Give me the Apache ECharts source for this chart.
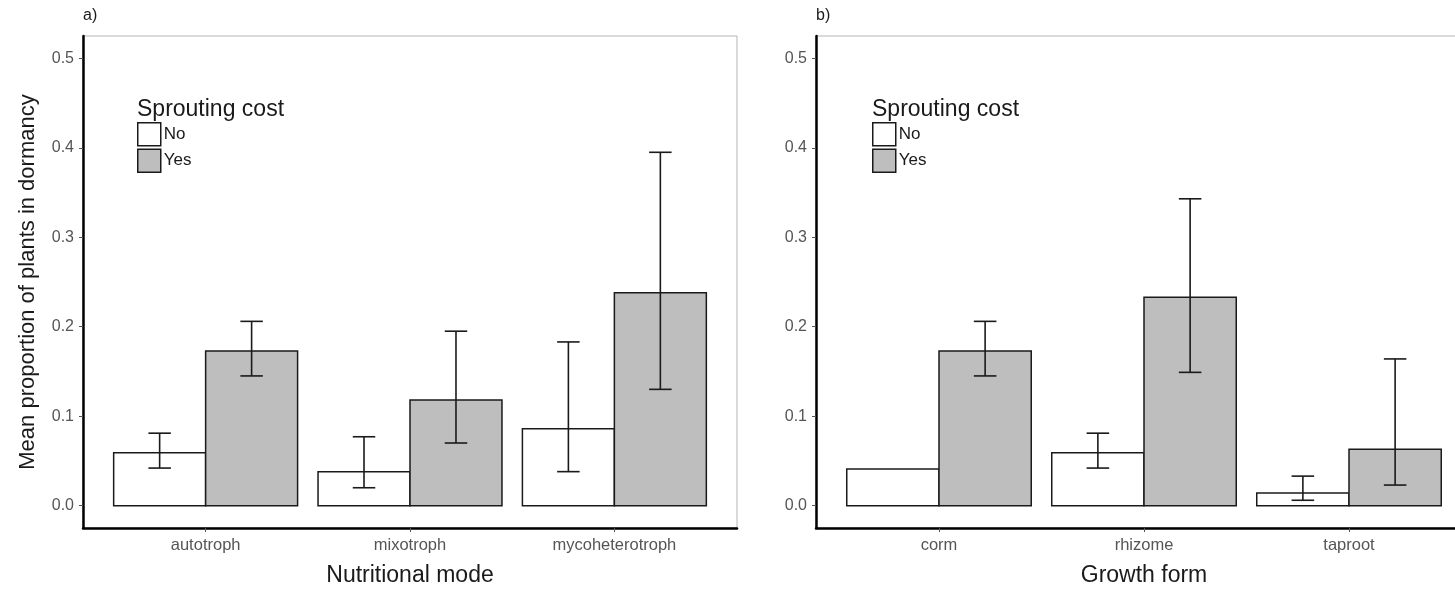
<!DOCTYPE html>
<html>
<head>
<meta charset="utf-8">
<title>Dormancy by nutritional mode and growth form</title>
<script src="https://cdn.jsdelivr.net/npm/echarts@6/dist/echarts.min.js"></script>
<style>
  html, body { margin: 0; padding: 0; background: #fff; }
  #chart { width: 1455px; height: 591px; }
</style>
</head>
<body>
<div id="chart"></div>
<script>
// Panel a: nutritional mode
const categoriesA = ['autotroph', 'mixotroph', 'mycoheterotroph'];
const noMeanA  = [0.059, 0.038, 0.086];
const noLowA   = [0.042, 0.020, 0.038];
const noHighA  = [0.081, 0.077, 0.183];
const yesMeanA = [0.173, 0.118, 0.238];
const yesLowA  = [0.145, 0.070, 0.130];
const yesHighA = [0.206, 0.195, 0.395];

// Panel b: growth form (corm without sprouting cost has no interval)
const categoriesB = ['corm', 'rhizome', 'taproot'];
const noMeanB  = [0.041, 0.059, 0.014];
const noLowB   = [null, 0.042, 0.006];
const noHighB  = [null, 0.081, 0.033];
const yesMeanB = [0.173, 0.233, 0.063];
const yesLowB  = [0.145, 0.149, 0.023];
const yesHighB = [0.206, 0.343, 0.164];

const yTicks = [0, 0.1, 0.2, 0.3, 0.4, 0.5];
const groupNames = ['No', 'Yes'];

const FONT = 'Liberation Sans, Arial, sans-serif';
const BAR_HALF = 0.45;     // each group bar spans 0.45 category units
const WHISKER = 0.055;     // half width of error-bar caps
const fills = { No: '#ffffff', Yes: '#bebebe' };

function barSeries(name, means, offsetSign, axisIdx) {
  return {
    type: 'custom',
    name: name,
    xAxisIndex: axisIdx,
    yAxisIndex: axisIdx,
    itemStyle: { color: fills[name], borderColor: '#1a1a1a', borderWidth: 1.5 },
    data: means.map((m, i) => [i + 1, m]),
    renderItem: function (params, api) {
      const x = api.value(0);
      const v = api.value(1);
      const x0 = offsetSign < 0 ? x - BAR_HALF : x;
      const x1 = offsetSign < 0 ? x : x + BAR_HALF;
      const p0 = api.coord([x0, v]);
      const p1 = api.coord([x1, 0]);
      return {
        type: 'rect',
        shape: { x: p0[0], y: p0[1], width: p1[0] - p0[0], height: p1[1] - p0[1] },
        style: { fill: fills[name], stroke: '#1a1a1a', lineWidth: 1.5 }
      };
    }
  };
}

function errorSeries(name, lows, highs, offsetSign, axisIdx) {
  const data = [];
  lows.forEach((lo, i) => {
    if (lo !== null && highs[i] !== null) data.push([i + 1, lo, highs[i]]);
  });
  return {
    type: 'custom',
    name: name + ' interval',
    xAxisIndex: axisIdx,
    yAxisIndex: axisIdx,
    z: 5,
    data: data,
    renderItem: function (params, api) {
      const xc = api.value(0) + offsetSign * BAR_HALF / 2;
      const lo = api.value(1);
      const hi = api.value(2);
      const top = api.coord([xc, hi]);
      const bot = api.coord([xc, lo]);
      const capL = api.coord([xc - WHISKER, hi]);
      const capR = api.coord([xc + WHISKER, hi]);
      const baseL = api.coord([xc - WHISKER, lo]);
      const baseR = api.coord([xc + WHISKER, lo]);
      const st = { stroke: '#1a1a1a', lineWidth: 1.6 };
      return {
        type: 'group',
        children: [
          { type: 'line', shape: { x1: top[0], y1: top[1], x2: bot[0], y2: bot[1] }, style: st },
          { type: 'line', shape: { x1: capL[0], y1: capL[1], x2: capR[0], y2: capR[1] }, style: st },
          { type: 'line', shape: { x1: baseL[0], y1: baseL[1], x2: baseR[0], y2: baseR[1] }, style: st }
        ]
      };
    }
  };
}

function xAxis(idx, cats, title) {
  return {
    type: 'value',
    gridIndex: idx,
    min: 0.4,
    max: 3.6,
    name: title,
    nameLocation: 'middle',
    nameGap: 36,
    nameTextStyle: { fontFamily: FONT, fontSize: 23, color: '#1a1a1a' },
    splitLine: { show: false },
    axisLine: { show: true, onZero: false, lineStyle: { color: '#000', width: 2.5 } },
    axisTick: { show: true, length: 4, customValues: [1, 2, 3], lineStyle: { color: '#555', width: 1 } },
    axisLabel: {
      show: true,
      customValues: [1, 2, 3],
      margin: 9,
      fontFamily: FONT, fontSize: 16.5, color: '#555',
      formatter: v => cats[Math.round(v) - 1]
    }
  };
}

function yAxis(idx, withTitle) {
  return {
    type: 'value',
    gridIndex: idx,
    min: -0.025,
    max: 0.525,
    name: withTitle ? 'Mean proportion of plants in dormancy' : '',
    nameLocation: 'middle',
    nameGap: 44,
    nameTextStyle: { fontFamily: FONT, fontSize: 22, color: '#1a1a1a' },
    splitLine: { show: false },
    axisLine: { show: true, onZero: false, lineStyle: { color: '#000', width: 2.5 } },
    axisTick: { show: true, length: 4, customValues: yTicks, lineStyle: { color: '#555', width: 1 } },
    axisLabel: {
      show: true,
      customValues: yTicks,
      margin: 9,
      fontFamily: FONT, fontSize: 16, color: '#555',
      formatter: v => v.toFixed(1)
    }
  };
}

function legend(left) {
  return {
    left: left,
    top: 117,
    orient: 'vertical',
    selectedMode: false,
    itemWidth: 23,
    itemHeight: 23,
    itemGap: 2,
    icon: 'rect',
    textStyle: { fontFamily: FONT, fontSize: 17, color: '#1a1a1a', padding: [0, 0, 0, -2] },
    data: groupNames.map(n => ({
      name: n,
      itemStyle: { color: fills[n], borderColor: '#1a1a1a', borderWidth: 1.5 }
    }))
  };
}

const chart = echarts.init(document.getElementById('chart'), null, { renderer: 'canvas' });

chart.setOption({
  animation: false,
  backgroundColor: '#ffffff',
  title: [
    { text: 'a)', left: 78, top: 3, textStyle: { fontFamily: FONT, fontSize: 16, fontWeight: 'normal', color: '#1a1a1a' } },
    { text: 'b)', left: 811, top: 3, textStyle: { fontFamily: FONT, fontSize: 16, fontWeight: 'normal', color: '#1a1a1a' } },
    { text: 'Sprouting cost', left: 132, top: 93, textStyle: { fontFamily: FONT, fontSize: 23, fontWeight: 'normal', color: '#1a1a1a' } },
    { text: 'Sprouting cost', left: 867, top: 93, textStyle: { fontFamily: FONT, fontSize: 23, fontWeight: 'normal', color: '#1a1a1a' } }
  ],
  legend: [legend(132), legend(867)],
  grid: [
    { left: 83, top: 36, width: 654, height: 492, outerBoundsMode: 'none', show: true, borderColor: '#b5b5b5', borderWidth: 1 },
    { left: 816, top: 36, width: 656, height: 492, outerBoundsMode: 'none', show: true, borderColor: '#b5b5b5', borderWidth: 1 }
  ],
  xAxis: [xAxis(0, categoriesA, 'Nutritional mode'), xAxis(1, categoriesB, 'Growth form')],
  yAxis: [yAxis(0, true), yAxis(1, false)],
  series: [
    barSeries('No', noMeanA, -1, 0),
    barSeries('Yes', yesMeanA, 1, 0),
    errorSeries('No', noLowA, noHighA, -1, 0),
    errorSeries('Yes', yesLowA, yesHighA, 1, 0),
    barSeries('No', noMeanB, -1, 1),
    barSeries('Yes', yesMeanB, 1, 1),
    errorSeries('No', noLowB, noHighB, -1, 1),
    errorSeries('Yes', yesLowB, yesHighB, 1, 1)
  ]
});
</script>
</body>
</html>
